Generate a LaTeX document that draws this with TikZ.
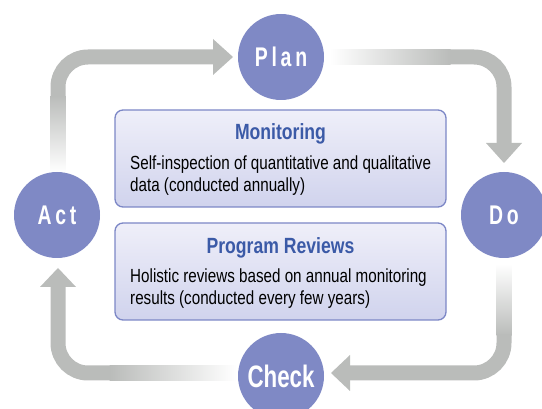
\documentclass[tikz,border=0pt]{standalone}
\usepackage{fontspec}
\setmainfont{Liberation Sans}[FakeStretch=0.8]
\newfontfamily\circfont{Liberation Sans}[FakeStretch=0.72,LetterSpace=14]
\newfontfamily\checkfont{Liberation Sans}[FakeStretch=0.72]
\definecolor{circfill}{RGB}{127,137,197}
\definecolor{titleblue}{RGB}{59,90,167}
\definecolor{boxborder}{RGB}{124,135,198}
\definecolor{boxtop}{RGB}{239,239,249}
\definecolor{boxbot}{RGB}{208,211,237}
\definecolor{arrgray}{RGB}{186,188,186}
\tikzset{
  phase/.style={circle,fill=circfill,minimum size=86pt,inner sep=0pt,text=white,font=\circfont\bfseries\fontsize{27}{27}\selectfont},
  infobox/.style={draw=boxborder,line width=1.3pt,rounded corners=8pt,top color=boxtop,bottom color=boxbot,minimum width=331pt,minimum height=97pt,inner sep=0pt},
  boxtitle/.style={anchor=base,inner sep=0pt,text=titleblue,font=\bfseries\fontsize{22}{22}\selectfont},
  boxbody/.style={anchor=base west,inner sep=0pt,text=black,font=\fontsize{19}{22}\selectfont},
  band/.style={draw=arrgray,line width=15pt,rounded corners=30pt},
  head/.style={fill=arrgray},
}
\begin{document}
\begin{tikzpicture}[x=1pt,y=-1pt]
\useasboundingbox (0,0) rectangle (542,409);
\clip (0,0) rectangle (542,409);
% arrows
% top-left
\coordinate (tlA) at (58,172);
\coordinate (tlB) at (58,95);
\coordinate (tlC) at (213,57);
\coordinate (tlT) at (233,57);
\shade[top color=arrgray,bottom color=white] (50.5,95.5) rectangle (65.5,172);
\draw[band] (tlB) -- (58,57) -- (tlC);
\fill[head] (213,39) -- (tlT) -- (213,75) -- cycle;
% top-right
\coordinate (trA) at (330,57);
\coordinate (trB) at (450,57);
\coordinate (trC) at (504,143);
\coordinate (trT) at (504,163);
\shade[left color=white,right color=arrgray] (330,49.5) rectangle (450.5,64.5);
\draw[band] (trB) -- (504,57) -- (trC);
\fill[head] (486,143) -- (trT) -- (522,143) -- cycle;
% bottom-right
\coordinate (brA) at (504,264);
\coordinate (brB) at (504,335);
\coordinate (brC) at (350,373);
\coordinate (brT) at (331,373);
\shade[top color=white,bottom color=arrgray] (496.5,264) rectangle (511.5,335.5);
\draw[band] (brB) -- (504,373) -- (brC);
\fill[head] (350,355) -- (brT) -- (350,391) -- cycle;
% bottom-left
\coordinate (blA) at (236,373);
\coordinate (blB) at (110,373);
\coordinate (blC) at (58,287);
\coordinate (blT) at (58,268);
\shade[left color=arrgray,right color=white] (109.5,365.5) rectangle (236,380.5);
\draw[band] (blB) -- (58,373) -- (blC);
\fill[head] (40,287) -- (blT) -- (76,287) -- cycle;
% circles
\node[phase] (plan) at (281,57) {Plan};
\node[phase] (act) at (57,215) {Act};
\node[phase] (do) at (504,215) {Do};
\node[phase,font=\checkfont\bfseries\fontsize{31}{31}\selectfont] (check) at (281,376) {Check};
% boxes
\node[infobox] (mon) at (280.5,158.5) {};
\node[boxtitle] (monT) at (280.5,140) {Monitoring};
\node[boxbody] (monL1) at (130,170) {Self-inspection of quantitative and qualitative};
\node[boxbody] (monL2) at (130,192) {data (conducted annually)};
\node[infobox] (rev) at (280.5,271.5) {};
\node[boxtitle] (revT) at (280.5,254) {Program Reviews};
\node[boxbody] (revL1) at (130,283) {Holistic reviews based on annual monitoring};
\node[boxbody] (revL2) at (130,305) {results (conducted every few years)};
\end{tikzpicture}
\end{document}
